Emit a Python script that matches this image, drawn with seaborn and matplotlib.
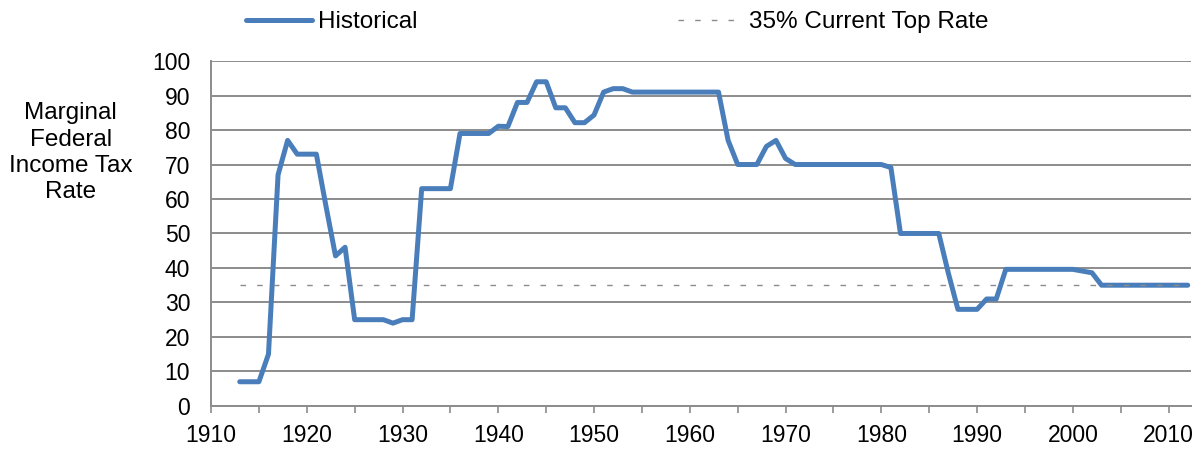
import numpy as np
import pandas as pd
import seaborn as sns
import matplotlib.pyplot as plt
from matplotlib.ticker import MultipleLocator

# top marginal federal income tax rate, 1913-2012
years = list(range(1913, 2013))
rates = [7, 7, 7, 15, 67, 77, 73, 73, 73, 58,
         43.5, 46, 25, 25, 25, 25, 24, 25, 25, 63,
         63, 63, 63, 79, 79, 79, 79, 81.1, 81, 88,
         88, 94, 94, 86.45, 86.45, 82.13, 82.13, 84.36, 91, 92,
         92, 91, 91, 91, 91, 91, 91, 91, 91, 91,
         91, 77, 70, 70, 70, 75.25, 77, 71.75, 70, 70,
         70, 70, 70, 70, 70, 70, 70, 70, 69.13, 50,
         50, 50, 50, 50, 38.5, 28, 28, 28, 31, 31,
         39.6, 39.6, 39.6, 39.6, 39.6, 39.6, 39.6, 39.6, 39.1, 38.6,
         35, 35, 35, 35, 35, 35, 35, 35, 35, 35]
current_top = [35] * len(years)

df = pd.DataFrame({'Year': years, 'Historical': rates, 'Current': current_top})

sns.set_style("white")
plt.rcParams['font.family'] = ['Liberation Sans', 'DejaVu Sans']
plt.rcParams['text.color'] = 'black'
plt.rcParams['xtick.labelcolor'] = 'black'
plt.rcParams['ytick.labelcolor'] = 'black'

fig = plt.figure(figsize=(11.99, 4.49), dpi=100)
ax = fig.add_axes([0.176, 0.096, 0.817, 0.768])

sns.lineplot(data=df, x='Year', y='Historical', ax=ax, color='#4a7ebb',
             linewidth=3.6, label='Historical', solid_capstyle='round',
             solid_joinstyle='round')
sns.lineplot(data=df, x='Year', y='Current', ax=ax, color='#8c8c8c',
             linewidth=1.0, linestyle=(0, (4, 8)), label='35% Current Top Rate')

ax.set_xlim(1910, 2012.3)
ax.set_ylim(0, 100)
ax.set_yticks(range(0, 101, 10))
ax.set_xticks(range(1910, 2011, 10))
ax.xaxis.set_minor_locator(MultipleLocator(5))
ax.yaxis.grid(True, color='#8c8c8c', linewidth=1.4)
ax.set_axisbelow(True)
for s in ['top', 'right']:
    ax.spines[s].set_visible(False)
for s in ['left', 'bottom']:
    ax.spines[s].set_color('#8c8c8c')
    ax.spines[s].set_linewidth(1.4)
ax.tick_params(axis='x', which='both', direction='out', length=5, color='#8c8c8c',
               width=1.2, bottom=True)
ax.tick_params(axis='x', which='major', labelsize=16.5, pad=8, labelcolor='black')
ax.tick_params(axis='y', length=0, labelsize=16.5, pad=15, labelcolor='black')
ax.set_xlabel('')
ax.set_ylabel('')

fig.text(0.059, 0.66, 'Marginal\nFederal\nIncome Tax\nRate', ha='center', va='center',
         fontsize=17.5, linespacing=1.25, color='black')

leg = ax.legend(loc='center', bbox_to_anchor=(0.415, 1.112), ncol=2, frameon=False,
                fontsize=17.5, columnspacing=10.7, handlelength=2.7, handletextpad=0.25)
for t in leg.get_texts():
    t.set_color('black')

fig.savefig('out.png', dpi=100)
